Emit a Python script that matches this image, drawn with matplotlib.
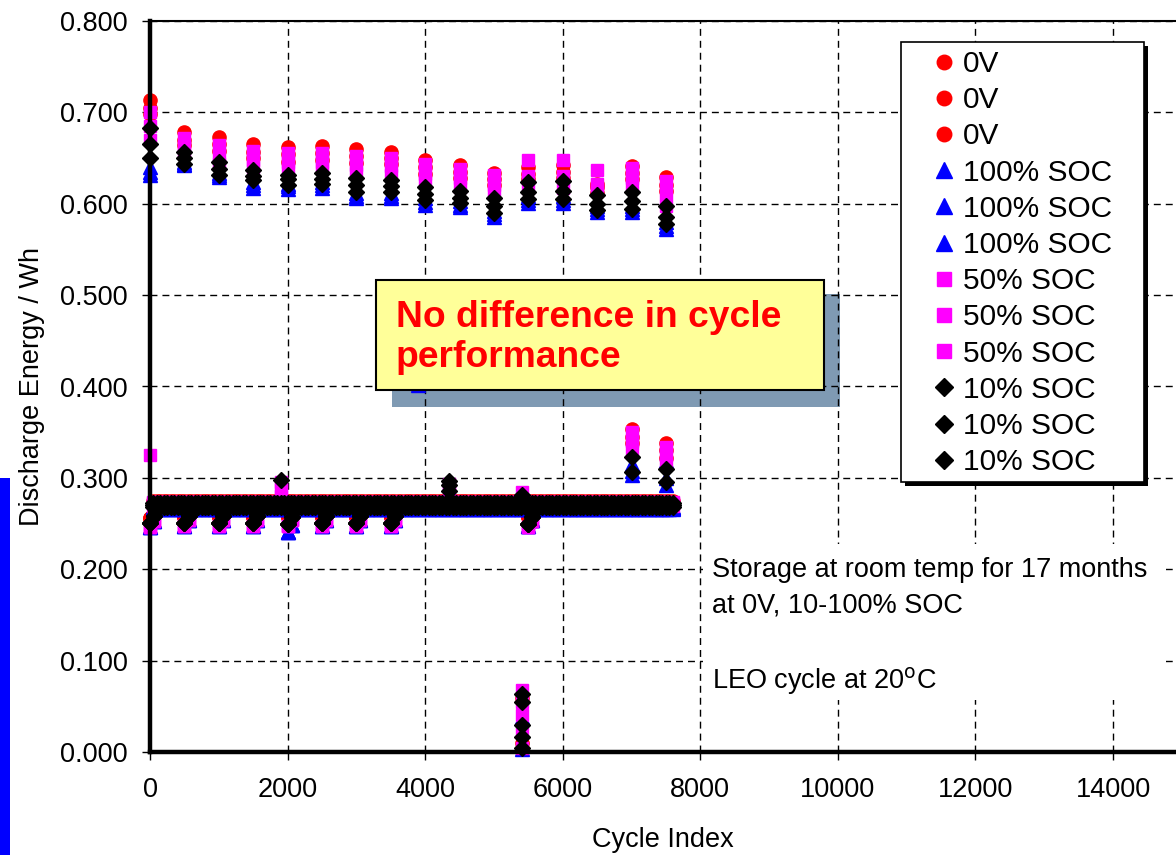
import numpy as np
import matplotlib.pyplot as plt
from matplotlib.patches import Rectangle

plt.rcParams['font.family'] = ['Liberation Sans', 'DejaVu Sans']

# ------------------------------------------------------------------
# data
# ------------------------------------------------------------------
check_cycles = [0, 500, 1000, 1500, 2000, 2500, 3000, 3500,
                4000, 4500, 5000, 5500, 6000, 6500, 7000, 7500]

red_check = [
    [0.713, 0.678, 0.673, 0.665, 0.662, 0.663, 0.660, 0.657, 0.648, 0.642, 0.634, 0.640, 0.642, 0.622, 0.641, 0.629],
    [0.705, 0.670, 0.665, 0.657, 0.654, 0.656, 0.652, 0.650, 0.640, 0.635, 0.627, 0.633, 0.635, 0.618, 0.634, 0.621],
    [0.698, 0.664, 0.658, 0.650, 0.646, 0.648, 0.645, 0.643, 0.633, 0.628, 0.621, 0.627, 0.628, 0.612, 0.627, 0.614],
]
blue_check = [
    [0.640, 0.646, 0.634, 0.624, 0.622, 0.624, 0.612, 0.612, 0.606, 0.603, 0.592, 0.608, 0.608, 0.597, 0.597, 0.580],
    [0.635, 0.644, 0.632, 0.620, 0.619, 0.620, 0.609, 0.609, 0.602, 0.599, 0.589, 0.604, 0.604, 0.594, 0.594, 0.576],
    [0.631, 0.642, 0.629, 0.617, 0.616, 0.617, 0.606, 0.606, 0.599, 0.596, 0.586, 0.601, 0.601, 0.591, 0.591, 0.572],
]
magenta_check = [
    [0.700, 0.672, 0.664, 0.658, 0.655, 0.656, 0.652, 0.650, 0.643, 0.638, 0.631, 0.648, 0.648, 0.637, 0.639, 0.625],
    [0.685, 0.662, 0.652, 0.648, 0.646, 0.646, 0.642, 0.641, 0.633, 0.628, 0.620, 0.630, 0.630, 0.622, 0.628, 0.611],
    [0.670, 0.655, 0.643, 0.640, 0.638, 0.639, 0.634, 0.632, 0.624, 0.618, 0.612, 0.617, 0.617, 0.615, 0.620, 0.598],
]
black_check = [
    [0.683, 0.657, 0.646, 0.637, 0.632, 0.634, 0.628, 0.626, 0.618, 0.614, 0.606, 0.624, 0.625, 0.610, 0.613, 0.597],
    [0.665, 0.650, 0.638, 0.630, 0.627, 0.627, 0.621, 0.619, 0.611, 0.606, 0.597, 0.613, 0.614, 0.600, 0.603, 0.586],
    [0.650, 0.644, 0.631, 0.626, 0.621, 0.622, 0.613, 0.613, 0.604, 0.601, 0.590, 0.605, 0.605, 0.593, 0.594, 0.578],
]

# LEO cycling level between checks (one per cell)
red_band = [0.275, 0.273, 0.271]
blue_band = [0.266, 0.267, 0.268]
magenta_band = [0.274, 0.272, 0.269]
black_band = [0.273, 0.270, 0.268]
band_end = 7600

# first LEO cycles after a check dip lower
dip_cycles = [0, 500, 1000, 1500, 2000, 2500, 3000, 3500, 5500]
red_dip = [0.256, 0.257, 0.257, 0.257, 0.257, 0.257, 0.257, 0.257, 0.257]
blue_dip = [0.246, 0.247, 0.247, 0.247, 0.241, 0.247, 0.247, 0.247, 0.247]
magenta_dip = [0.246, 0.247, 0.247, 0.247, 0.247, 0.247, 0.247, 0.247, 0.246]
black_dip = [0.251, 0.251, 0.251, 0.251, 0.250, 0.251, 0.251, 0.251, 0.250]

# odd points
red_extra_x = [7000, 7000, 7000, 7500, 7500, 7500, 5410, 5410]
red_extra_y = [0.353, 0.345, 0.338, 0.338, 0.330, 0.322, 0.059, 0.010]
blue_extra_x = [1900, 3890, 5410, 5410, 7000, 7000, 7000, 7500, 7500, 7500]
blue_extra_y = [0.283, 0.402, 0.038, 0.003, 0.315, 0.308, 0.303, 0.318, 0.300, 0.292]
magenta_extra_x = [0, 1900, 1900, 1900, 4350, 4350, 5410, 5410, 5410, 5410, 5410, 5410,
                   7000, 7000, 7000, 7500, 7500, 7500]
magenta_extra_y = [0.325, 0.296, 0.288, 0.280, 0.293, 0.283, 0.285, 0.068, 0.055, 0.040, 0.022, 0.004,
                   0.350, 0.340, 0.330, 0.334, 0.325, 0.315]
black_extra_x = [1900, 4350, 4350, 4350, 5410, 5410, 5410, 5410, 5410, 5410, 7000, 7000, 7500, 7500]
black_extra_y = [0.298, 0.297, 0.292, 0.286, 0.281, 0.064, 0.055, 0.030, 0.016, 0.004, 0.323, 0.306, 0.310, 0.296]

groups = [
    ('0V', '#FF0000', 'o', 9.5, red_check, red_band, red_dip, red_extra_x, red_extra_y),
    ('100% SOC', '#0000FF', '^', 10.5, blue_check, blue_band, blue_dip, blue_extra_x, blue_extra_y),
    ('50% SOC', '#FF00FF', 's', 9.0, magenta_check, magenta_band, magenta_dip, magenta_extra_x, magenta_extra_y),
    ('10% SOC', '#000000', 'D', 8.3, black_check, black_band, black_dip, black_extra_x, black_extra_y),
]

# ------------------------------------------------------------------
# plot
# ------------------------------------------------------------------
fig = plt.figure(figsize=(11.76, 8.55), dpi=100)
ax = fig.add_axes([150 / 1176, 103 / 855, 1031.8 / 1176, 731 / 855])

band_cycles = np.arange(50, band_end + 1, 50)
for label, color, marker, ms, checks, bands, dips, ex_x, ex_y in groups:
    for i in range(3):
        x = list(band_cycles) + dip_cycles + [c + 60 for c in dip_cycles] + check_cycles
        y = [bands[i]] * len(band_cycles) + dips + [d + 0.007 for d in dips] + checks[i]
        if i == 0:
            x += ex_x
            y += ex_y
        ax.plot(x, y, ls='none', marker=marker, ms=ms, color=color, mec=color,
                label=label, clip_on=False)

ax.set_xlim(0, 15000)
ax.set_ylim(0, 0.8)
ax.set_xticks(range(0, 15000, 2000))
ax.set_yticks(np.arange(0, 0.81, 0.1))
ax.yaxis.set_major_formatter(plt.FormatStrFormatter('%.3f'))
ax.tick_params(labelsize=19.5, direction='out', length=6, width=1)
ax.tick_params(axis='y', pad=10)
ax.tick_params(axis='x', pad=12)
ax.set_axisbelow(True)
ax.grid(True, color='black', ls=(0, (5, 3.6)), lw=1.0)

for side in ['left', 'bottom']:
    ax.spines[side].set_linewidth(3.2)
ax.spines['top'].set_linewidth(1.5)
ax.spines['right'].set_visible(False)

ax.set_xlabel('Cycle Index', fontsize=19.5)
ax.set_ylabel('Discharge Energy / Wh', fontsize=19.5)
ax.xaxis.set_label_coords((663 - 150) / 1031.8, (752 - 827) / 731)
ax.yaxis.set_label_coords((45 - 150) / 1031.8, (752 - 387) / 731)

# notes on a white block that hides the grid behind them
ax.add_patch(Rectangle((703 / 1176, 1 - 700 / 855), 463 / 1176, 156 / 855,
                       transform=fig.transFigure, fc='white', ec='none', zorder=1))
ax.text(8170, 0.1915, 'Storage at room temp for 17 months', fontsize=19.5, va='baseline')
ax.text(8170, 0.1530, 'at 0V, 10-100% SOC', fontsize=19.5, va='baseline')
ax.text(8170, 0.0700, r'LEO cycle at 20$^{\rm o}$C', fontsize=19.5, va='baseline')

# call-out box with shadow (shadow sits under the grid)
ax.add_patch(Rectangle((392 / 1176, 1 - 407 / 855), 448 / 1176, 113 / 855,
                       transform=fig.transFigure, fc='#7F9AB3', ec='none', zorder=0.3))
fig.add_artist(Rectangle((376 / 1176, 1 - 390 / 855), 448 / 1176, 110 / 855,
                         fc='#FFFF99', ec='black', lw=1.5, zorder=3))
fig.text(396 / 1176, 1 - 327 / 855, 'No difference in cycle', color='#FF0000',
         fontsize=26.8, fontweight='bold', va='baseline', zorder=4)
fig.text(396 / 1176, 1 - 367 / 855, 'performance', color='#FF0000',
         fontsize=26.8, fontweight='bold', va='baseline', zorder=4)

# legend with black drop shadow
fig.add_artist(Rectangle((905 / 1176, 1 - 486 / 855), 243 / 1176, 440 / 855,
                         fc='black', ec='none', zorder=2.9))
fig.add_artist(Rectangle((901 / 1176, 1 - 482 / 855), 243 / 1176, 440 / 855,
                         fc='white', ec='black', lw=1.2, zorder=3))
handles, labels = ax.get_legend_handles_labels()
fig.legend(handles, labels, loc='upper left', bbox_to_anchor=(929 / 1176, 1 - 50 / 855),
           frameon=False, fontsize=21.5, numpoints=1, markerscale=1.1, handlelength=1.0,
           handletextpad=0.13, labelspacing=0.275, borderpad=0, borderaxespad=0)

# blue strip at the left edge of the slide
fig.add_artist(Rectangle((0, 0), 10 / 1176, (855 - 478) / 855, fc='#0000FF', ec='none'))

plt.savefig('out.png', dpi=100)
